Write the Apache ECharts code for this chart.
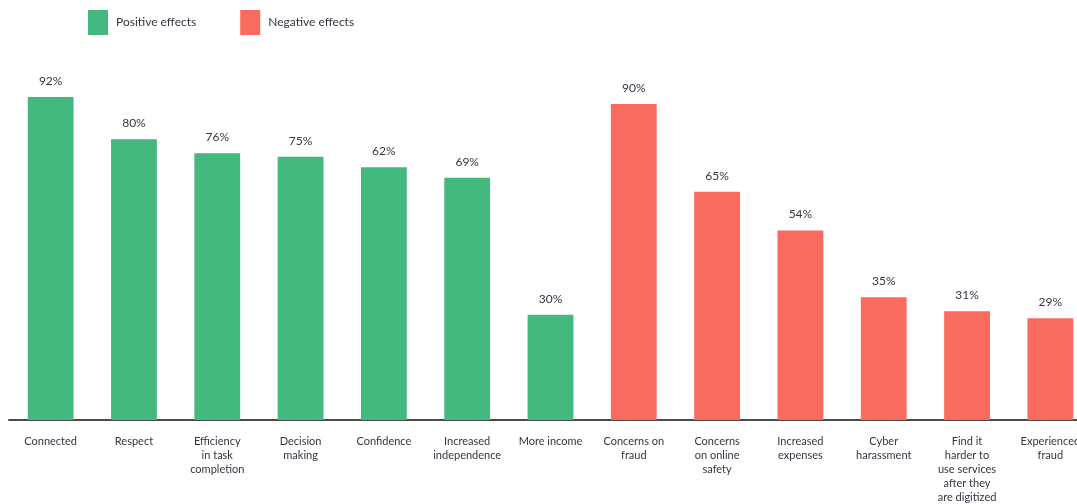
<!DOCTYPE html>
<html>
<head>
<meta charset="utf-8">
<script src="https://cdn.jsdelivr.net/npm/echarts@6/dist/echarts.min.js"></script>
<style>
    html, body { margin: 0; padding: 0; background: #fff; overflow: hidden; }
    #chart { width: 1095px; height: 504px; }
</style>
</head>
<body>
<div id="chart"></div>
<script>
    // categories, green ones first then red ones
    var positiveCats = ['Connected', 'Respect', 'Efficiency\nin task\ncompletion', 'Decision\nmaking', 'Confidence', 'Increased\nindependence', 'More income'];
    var negativeCats = ['Concerns on\nfraud', 'Concerns\non online\nsafety', 'Increased\nexpenses', 'Cyber\nharassment', 'Find it\nharder to\nuse services\nafter they\nare digitized', 'Experienced\nfraud'];

    // bar heights as drawn in the picture
    var positiveValues = [92, 80, 76, 75, 72, 69, 30];
    var negativeValues = [90, 65, 54, 35, 31, 29];

    // printed labels over the bars
    var positiveLabels = ['92%', '80%', '76%', '75%', '62%', '69%', '30%'];
    var negativeLabels = ['90%', '65%', '54%', '35%', '31%', '29%'];

    var categories = positiveCats.concat(negativeCats);
    var nPos = positiveCats.length;

    var posData = [], negData = [];
    for (var i = 0; i < categories.length; i++) {
        if (i < nPos) {
            posData.push(positiveValues[i]);
            negData.push('-');
        } else {
            posData.push('-');
            negData.push(negativeValues[i - nPos]);
        }
    }

    var textColor = '#353542';
    var fontFam = 'Lato, "Open Sans", sans-serif';

    var option = {
        animation: false,
        textStyle: { fontFamily: fontFam },
        legend: {
            left: 83,
            top: 5,
            icon: 'rect',
            itemWidth: 20,
            itemHeight: 25,
            itemGap: 44,
            textStyle: { fontSize: 12, color: textColor, fontFamily: fontFam, padding: [0, 0, 0, 3] },
            data: ['Positive effects', 'Negative effects']
        },
        grid: {
            left: 9,
            right: 3,
            top: 69,
            bottom: 83,
            containLabel: false
        },
        xAxis: {
            type: 'category',
            data: categories,
            axisLine: { lineStyle: { color: '#4a4a4a', width: 2 } },
            axisTick: { show: false },
            axisLabel: {
                interval: 0,
                margin: 14,
                fontSize: 11,
                lineHeight: 14,
                color: textColor,
                fontFamily: fontFam
            }
        },
        yAxis: {
            type: 'value',
            min: 0,
            max: 100,
            show: false,
            splitLine: { show: false }
        },
        series: [
            {
                name: 'Positive effects',
                type: 'bar',
                barWidth: '55%',
                barGap: '-100%',
                itemStyle: { color: '#43b97f' },
                label: {
                    show: true,
                    position: 'top',
                    distance: 10,
                    fontSize: 12,
                    color: textColor,
                    formatter: function (p) { return positiveLabels[p.dataIndex]; }
                },
                data: posData
            },
            {
                name: 'Negative effects',
                type: 'bar',
                barWidth: '55%',
                barGap: '-100%',
                itemStyle: { color: '#f96b5e' },
                label: {
                    show: true,
                    position: 'top',
                    distance: 10,
                    fontSize: 12,
                    color: textColor,
                    formatter: function (p) { return negativeLabels[p.dataIndex - nPos]; }
                },
                data: negData
            }
        ]
    };

    var chart = echarts.init(document.getElementById('chart'));
    chart.setOption(option);
</script>
</body>
</html>
